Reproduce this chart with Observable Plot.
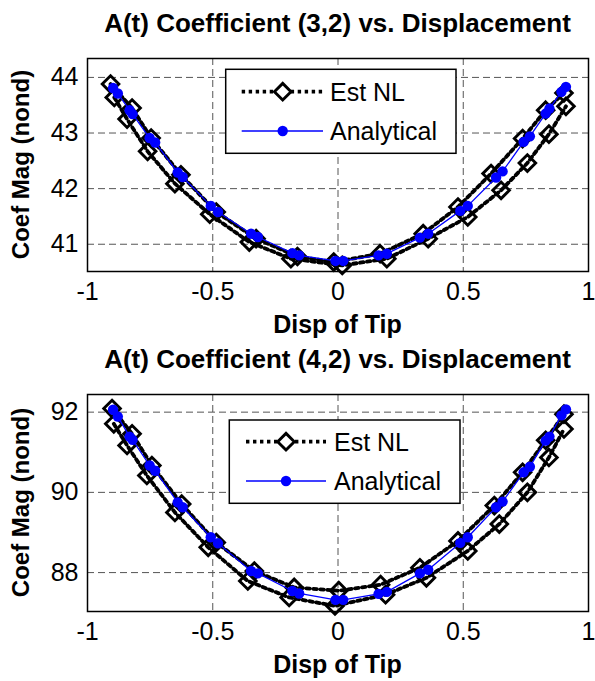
<!DOCTYPE html>
<html><head><meta charset="utf-8">
<script src="https://cdn.jsdelivr.net/npm/d3@7"></script>
<script src="https://cdn.jsdelivr.net/npm/@observablehq/plot@0.6"></script>
<style>
body{margin:0;background:#fff;}
#wrap{position:relative;width:595px;height:681px;font-family:"Liberation Sans",Arial,sans-serif;background:#fff;overflow:hidden;}
#wrap > svg{position:absolute;left:0;}
</style></head><body><div id="wrap"></div>
<script>
// ---- data ----
const xTicks = [-1, -0.5, 0, 0.5, 1];
const yTicks32 = [41, 42, 43, 44];
const yTicks42 = [88, 90, 92];
const titles = ["A(t) Coefficient (3,2) vs. Displacement", "A(t) Coefficient (4,2) vs. Displacement"];
const xLabel = "Disp of Tip";
const yLabel = "Coef Mag (nond)";
const seriesNames = ["Est NL", "Analytical"];

const dispAnalytical = [-0.898,-0.879,-0.832,-0.820,-0.752,-0.730,-0.640,-0.620,-0.508,-0.479,-0.347,-0.320,-0.182,-0.155,-0.010,0.021,0.162,0.195,0.327,0.360,0.488,0.518,0.631,0.657,0.741,0.766,0.829,0.844,0.892,0.910];
const coef32Analytical = [43.81,43.71,43.41,43.34,42.91,42.83,42.29,42.21,41.69,41.58,41.19,41.13,40.84,40.80,40.70,40.70,40.80,40.83,41.12,41.19,41.60,41.69,42.20,42.31,42.84,42.94,43.35,43.44,43.74,43.83];
const coef42Analytical = [92.06,91.89,91.39,91.31,90.67,90.54,89.75,89.63,88.88,88.73,88.04,87.98,87.54,87.48,87.32,87.32,87.47,87.52,87.98,88.07,88.74,88.88,89.63,89.77,90.50,90.64,91.29,91.39,91.92,92.07];

const dispEstUp32 = [-0.908,-0.822,-0.746,-0.627,-0.486,-0.327,-0.162,-0.017,0.168,0.340,0.479,0.611,0.737,0.829,0.902];
const coef32EstUp = [43.88,43.45,42.91,42.25,41.58,41.10,40.78,40.68,40.83,41.19,41.67,42.27,42.90,43.41,43.72];
const dispEstLo32 = [-0.893,-0.842,-0.760,-0.651,-0.512,-0.354,-0.188,0.017,0.195,0.360,0.518,0.651,0.756,0.842,0.910];
const coef32EstLo = [43.64,43.25,42.67,42.09,41.54,41.04,40.74,40.62,40.74,41.10,41.49,41.97,42.46,42.98,43.48];

const dispEstUp42 = [-0.902,-0.822,-0.743,-0.624,-0.486,-0.334,-0.175,0.003,0.170,0.327,0.479,0.624,0.737,0.829,0.902];
const coef42EstUp = [92.09,91.46,90.67,89.71,88.75,88.04,87.63,87.55,87.70,88.12,88.79,89.67,90.50,91.30,91.95];
const dispEstLo42 = [-0.895,-0.842,-0.763,-0.651,-0.518,-0.360,-0.195,-0.012,0.190,0.353,0.518,0.644,0.756,0.842,0.902];
const coef42EstLo = [91.71,91.17,90.42,89.50,88.63,87.79,87.38,87.17,87.45,87.87,88.54,89.21,90.00,90.87,91.58];

// ---- helpers ----
const squareDiamond = {draw(ctx, size){ const r = Math.sqrt(size/Math.PI); ctx.moveTo(0,-r); ctx.lineTo(r,0); ctx.lineTo(0,r); ctx.lineTo(-r,0); ctx.closePath(); }};
const FONT = '"Liberation Sans", Arial, sans-serif';
const zip = (xs, ys) => xs.map((x, i) => ({x, y: ys[i]}));
const DIAM = 8.3, DSW = 2.9, DOTR = 5.2, DASH = "3.4,3.6", DLW = 3.8;

function chart({up, lo, ana, yDomain, yTicks, height, marginTop, marginBottom}) {
  const gridStyle = {stroke: "#555", strokeOpacity: 1, strokeWidth: 1, strokeDasharray: "7,4"};
  return Plot.plot({
    width: 595, height, marginLeft: 87, marginRight: 7, marginTop, marginBottom,
    style: {fontFamily: FONT, fontSize: "25px", color: "black", background: "white", overflow: "visible"},
    x: {domain: [-1, 1]},
    y: {domain: yDomain},
    marks: [
      Plot.gridX(xTicks, gridStyle),
      Plot.gridY(yTicks, gridStyle),
      Plot.axisX(xTicks, {anchor: "bottom", tickSize: 0, tickPadding: 11, fontSize: 25, tickFormat: d => String(d), label: null}),
      Plot.axisY(yTicks, {anchor: "left", tickSize: 0, tickPadding: 9, fontSize: 25, tickFormat: d => String(d), label: null}),
      Plot.line(up, {x: "x", y: "y", stroke: "black", strokeWidth: DLW, strokeDasharray: DASH}),
      Plot.line(lo, {x: "x", y: "y", stroke: "black", strokeWidth: DLW, strokeDasharray: DASH}),
      Plot.dot(up.concat(lo), {x: "x", y: "y", symbol: squareDiamond, r: DIAM, stroke: "black", strokeWidth: DSW, fill: "none"}),
      Plot.line(ana, {x: "x", y: "y", stroke: "#0000ff", strokeWidth: 1.3}),
      Plot.dot(ana, {x: "x", y: "y", fill: "#0000ff", r: DOTR}),
      Plot.frame({stroke: "black", strokeWidth: 1.5})
    ]
  });
}

const wrap = document.getElementById("wrap");
const c1 = chart({up: zip(dispEstUp32, coef32EstUp), lo: zip(dispEstLo32, coef32EstLo), ana: zip(dispAnalytical, coef32Analytical),
  yDomain: [40.51, 44.34], yTicks: yTicks32, height: 336, marginTop: 58, marginBottom: 65});
c1.style.top = "0px";
wrap.appendChild(c1);
const c2 = chart({up: zip(dispEstUp42, coef42EstUp), lo: zip(dispEstLo42, coef42EstLo), ana: zip(dispAnalytical, coef42Analytical),
  yDomain: [87.03, 92.44], yTicks: yTicks42, height: 345, marginTop: 58, marginBottom: 70});
c2.style.top = "336px";
wrap.appendChild(c2);

// ---- overlay: titles, axis labels, legends ----
const ov = d3.select(wrap).append("svg").attr("width", 595).attr("height", 681).style("top", "0px")
  .style("font-family", FONT).style("pointer-events", "none");
const panels = [
  {titleY: 32, xLabY: 333, yMid: 164.5, leg: {x: 225.7, y: 69.3, w: 230.3, h: 84, r1: 91.7, r2: 131, l0: 241.7, l1: 323, m: 282.7, tx: 330}},
  {titleY: 368, xLabY: 673, yMid: 502.5, leg: {x: 229.3, y: 420, w: 230.7, h: 83.3, r1: 441.7, r2: 481, l0: 246, l1: 326, m: 286, tx: 334}}
];
panels.forEach((p, i) => {
  ov.append("text").attr("x", 337.5).attr("y", p.titleY).attr("text-anchor", "middle")
    .attr("font-size", 26).attr("font-weight", "bold").text(titles[i]);
  ov.append("text").attr("x", 337.5).attr("y", p.xLabY).attr("text-anchor", "middle")
    .attr("font-size", 25).attr("font-weight", "bold").text(xLabel);
  ov.append("text").attr("transform", `translate(29,${p.yMid}) rotate(-90)`).attr("text-anchor", "middle")
    .attr("font-size", 24).attr("font-weight", "bold").text(yLabel);
  const L = p.leg;
  ov.append("rect").attr("x", L.x).attr("y", L.y).attr("width", L.w).attr("height", L.h)
    .attr("fill", "white").attr("stroke", "black").attr("stroke-width", 1.5);
  ov.append("line").attr("x1", L.l0).attr("x2", L.l1).attr("y1", L.r1).attr("y2", L.r1)
    .attr("stroke", "black").attr("stroke-width", DLW).attr("stroke-dasharray", DASH);
  const d = DIAM;
  ov.append("path").attr("d", `M${L.m},${L.r1-d}L${L.m+d},${L.r1}L${L.m},${L.r1+d}L${L.m-d},${L.r1}Z`)
    .attr("fill", "white").attr("stroke", "black").attr("stroke-width", DSW);
  ov.append("line").attr("x1", L.l0).attr("x2", L.l1).attr("y1", L.r2).attr("y2", L.r2)
    .attr("stroke", "#0000ff").attr("stroke-width", 1.3);
  ov.append("circle").attr("cx", L.m).attr("cy", L.r2).attr("r", DOTR).attr("fill", "#0000ff");
  ov.append("text").attr("x", L.tx).attr("y", L.r1 + 9).attr("font-size", 25).text(seriesNames[0]);
  ov.append("text").attr("x", L.tx).attr("y", L.r2 + 9).attr("font-size", 25).text(seriesNames[1]);
});
</script></body></html>
